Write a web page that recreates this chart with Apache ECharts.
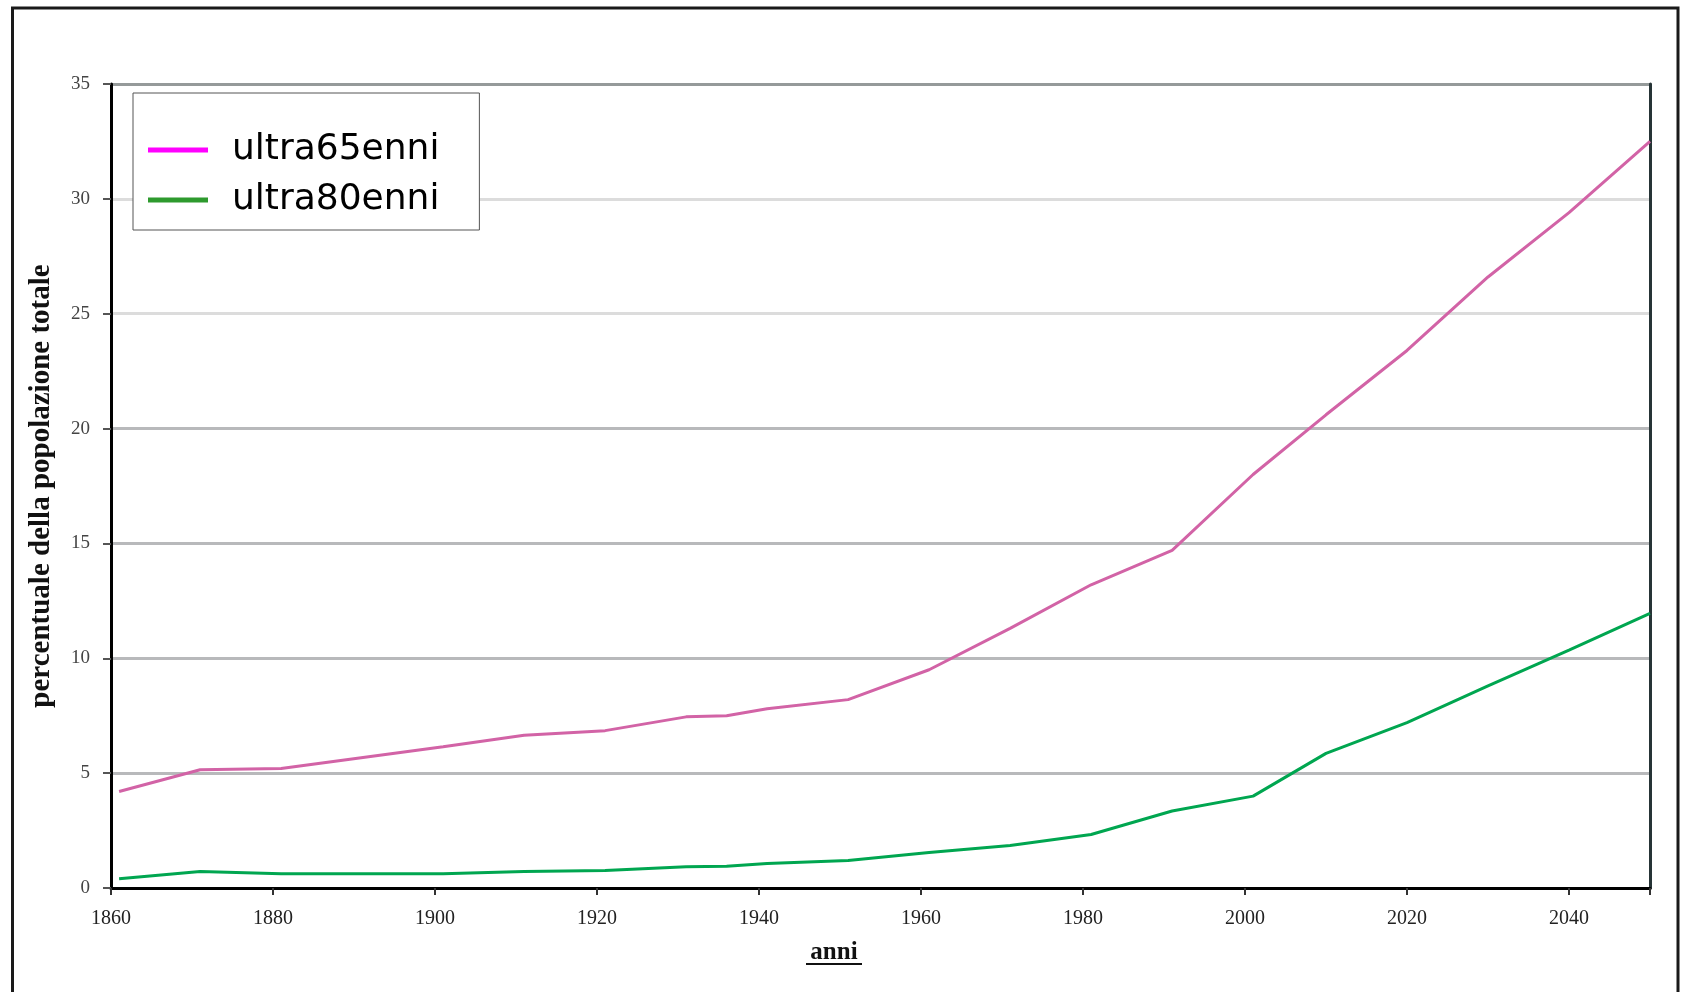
<!DOCTYPE html>
<html>
<head>
<meta charset="utf-8">
<script src="https://cdn.jsdelivr.net/npm/echarts@6/dist/echarts.min.js"></script>
<style>
html,body{margin:0;padding:0;background:#fff;}
#chart{width:1683px;height:995px;}
</style>
</head>
<body>
<div id="chart"></div>
<script>
// Data
const seriesNames = ['ultra65enni', 'ultra80enni'];
const years = [1861, 1871, 1881, 1901, 1911, 1921, 1931, 1936, 1941, 1951, 1961, 1971, 1981, 1991, 2001, 2010, 2020, 2030, 2040, 2050];
const ultra65 = [4.2, 5.15, 5.2, 6.15, 6.65, 6.85, 7.45, 7.5, 7.8, 8.2, 9.5, 11.3, 13.2, 14.7, 18.0, 20.6, 23.4, 26.6, 29.4, 32.5];
const ultra80 = [0.4, 0.72, 0.62, 0.62, 0.72, 0.76, 0.93, 0.95, 1.07, 1.2, 1.55, 1.85, 2.33, 3.35, 4.0, 5.86, 7.2, 8.8, 10.36, 11.96];
const xTicks = [1860, 1880, 1900, 1920, 1940, 1960, 1980, 2000, 2020, 2040];
const yTicks = [0, 5, 10, 15, 20, 25, 30, 35];

const pair = (vals) => years.map((y, i) => [y, vals[i]]);

const chart = echarts.init(document.getElementById('chart'), null, {renderer: 'canvas'});
const option = {
  backgroundColor: '#ffffff',
  animation: false,
  grid: {left: 111, top: 84, right: 33, bottom: 107, containLabel: false},
  legend: {
    orient: 'vertical',
    left: 133, top: 93,
    backgroundColor: '#ffffff',
    borderColor: '#555555',
    borderWidth: 1,
    borderRadius: 0,
    padding: [36, 40, 9, 15],
    itemGap: 8,
    itemWidth: 60,
    itemHeight: 5,
    icon: 'rect',
    textStyle: {fontFamily: '"Comic Sans MS", "DejaVu Sans", sans-serif', fontSize: 36, lineHeight: 42, color: '#000', padding: [0, 0, 0, 19]},
    data: [
      {name: seriesNames[0], itemStyle: {color: '#ff00ff'}},
      {name: seriesNames[1], itemStyle: {color: '#2e9a2e'}}
    ]
  },
  xAxis: {
    type: 'value',
    min: xTicks[0], max: 2050, interval: 20,
    name: 'anni',
    nameLocation: 'middle',
    nameGap: 52,
    nameTextStyle: {fontFamily: '"Liberation Serif", serif', fontWeight: 'bold', fontSize: 25, color: '#111', padding: [0, 93, 0, 0]},
    axisLine: {show: true, lineStyle: {color: '#000', width: 3}},
    axisTick: {show: true, length: 7, lineStyle: {color: '#333', width: 2}},
    axisLabel: {fontFamily: '"Liberation Serif", serif', fontSize: 20, color: '#222', margin: 21,
      formatter: (v) => xTicks.includes(v) ? String(v) : ''},
    splitLine: {show: false}
  },
  yAxis: [{
    type: 'value',
    min: yTicks[0], max: yTicks[yTicks.length - 1], interval: 5,
    name: 'percentuale della popolazione totale',
    nameLocation: 'middle',
    nameGap: 55,
    nameTextStyle: {fontFamily: '"Liberation Serif", serif', fontWeight: 'bold', fontSize: 29, color: '#111'},
    axisLine: {show: true, lineStyle: {color: '#000', width: 3}},
    axisTick: {show: true, length: 8, lineStyle: {color: '#555', width: 2}},
    axisLabel: {fontFamily: '"Liberation Serif", serif', fontSize: 19, color: '#444', margin: 21},
    splitLine: {show: true, lineStyle: {width: 3, color: ['#b8b9bb', '#b8b9bb', '#b8b9bb', '#b8b9bb', '#b8b9bb', '#dcdcdc', '#dcdcdc', '#959a9a']}}
  }, {
    type: 'value',
    position: 'right',
    min: yTicks[0], max: yTicks[yTicks.length - 1], interval: 5,
    axisLine: {show: true, onZero: false, lineStyle: {color: '#263436', width: 3}},
    axisTick: {show: false},
    axisLabel: {show: false},
    splitLine: {show: false}
  }],
  series: [
    {name: seriesNames[0], type: 'line', data: pair(ultra65), showSymbol: false, symbol: 'none',
      lineStyle: {color: '#d263a6', width: 3}, itemStyle: {color: '#d263a6'}, z: 3},
    {name: seriesNames[1], type: 'line', data: pair(ultra80), showSymbol: false, symbol: 'none',
      lineStyle: {color: '#00a650', width: 3}, itemStyle: {color: '#00a650'}, z: 3}
  ],
  graphic: [
    {type: 'polyline', silent: true, z: 100,
      shape: {points: [[12.5, 992], [12.5, 8], [1678, 8], [1678, 992]]},
      style: {stroke: '#1a1a1a', lineWidth: 3, fill: null}},
    {type: 'line', silent: true, z: 100,
      shape: {x1: 806, y1: 964, x2: 862, y2: 964},
      style: {stroke: '#111', lineWidth: 2}}
  ]
};
chart.setOption(option);
</script>
</body>
</html>
